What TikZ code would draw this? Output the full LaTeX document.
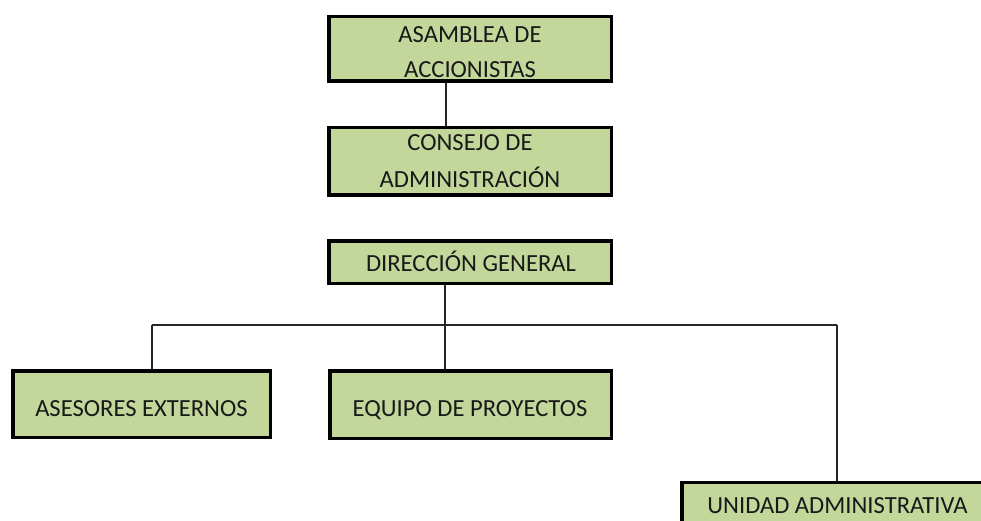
\documentclass[tikz,border=0pt]{standalone}
\usepackage{fontspec}
\setmainfont{Carlito}
\definecolor{boxgreen}{RGB}{196,215,155}
\tikzset{
  orgbox/.style={draw=black, fill=boxgreen, line width=3.5pt, inner sep=0pt},
  lbl/.style={anchor=base, inner sep=0pt, font=\fontsize{24.6}{30}\selectfont, text=black!90},
  link/.style={draw=black!85, line width=1.3pt}
}
\begin{document}
\begin{tikzpicture}[x=1pt,y=-1pt]
\useasboundingbox (0,0) rectangle (981,521);
\clip (0,0) rectangle (981,521);
% boxes
\node[orgbox, minimum width=282.5pt, minimum height=64.5pt] (asam) at (470,49) {};
\node[orgbox, minimum width=282.5pt, minimum height=67.5pt] (cons) at (470,161.5) {};
\node[orgbox, minimum width=282.5pt, minimum height=42.5pt] (dir) at (470,262) {};
\node[orgbox, minimum width=257.5pt, minimum height=66.5pt] (ases) at (141.5,404) {};
\node[orgbox, minimum width=281.5pt, minimum height=67.5pt] (equi) at (470.5,404.5) {};
\node[orgbox, minimum width=306pt, minimum height=55.5pt] (unid) at (835,510) {};
% texts
\node[lbl] (asamA) at (470,42.3) {ASAMBLEA DE};
\node[lbl] (asamB) at (470,77.3) {ACCIONISTAS};
\node[lbl] (consA) at (470,151) {CONSEJO DE};
\node[lbl] (consB) at (470,188) {ADMINISTRACIÓN};
\node[lbl] (dirA) at (471,271) {DIRECCIÓN GENERAL};
\node[lbl] (asesA) at (141.5,416) {ASESORES EXTERNOS};
\node[lbl] (equiA) at (470,416) {EQUIPO DE PROYECTOS};
\node[lbl] (unidA) at (837.5,513) {UNIDAD ADMINISTRATIVA};
% connectors
\coordinate (trunkA) at (446,0);
\coordinate (trunkB) at (445,0);
\coordinate (busL) at (152,325);
\coordinate (busR) at (837,325);
\draw[link] (asam.south -| trunkA) -- (cons.north -| trunkA);
\draw[link] (dir.south -| trunkB) -- (equi.north -| trunkB);
\draw[link] (busL) -- (busR);
\draw[link] (busL) -- (ases.north -| busL);
\draw[link] (busR) -- (unid.north -| busR);
\end{tikzpicture}
\end{document}
